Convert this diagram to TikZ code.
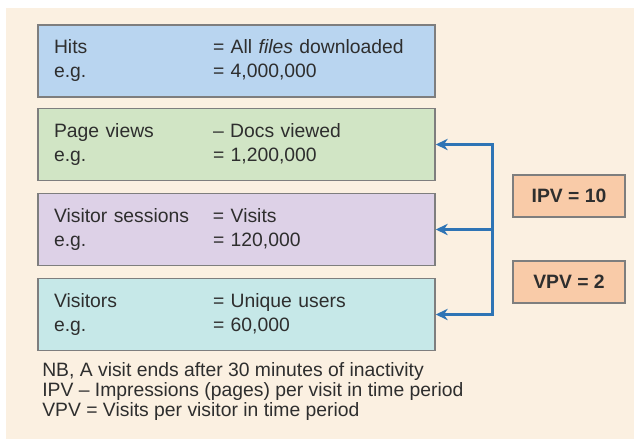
\documentclass[tikz,border=0pt]{standalone}
\usepackage{fontspec}
\setmainfont{Liberation Sans}
\usetikzlibrary{arrows.meta}
\definecolor{webcream}{HTML}{FBF0E1}
\definecolor{webhits}{HTML}{B9D5F0}
\definecolor{webpages}{HTML}{D1E5C5}
\definecolor{websess}{HTML}{DDD1E7}
\definecolor{webusers}{HTML}{C6E8E8}
\definecolor{webpeach}{HTML}{F9CBA8}
\definecolor{webgrey}{HTML}{7E7E7E}
\definecolor{webblue}{HTML}{2E74B5}
\definecolor{webtext}{HTML}{2E2E2E}
\newcommand{\rowlbl}[1]{\makebox[119.25pt][l]{#1}}

\begin{document}
\begin{tikzpicture}[x=0.75pt,y=-0.75pt,font=\fontsize{14.5}{18}\selectfont,text=webtext,
    metric/.style={draw=webgrey,line width=1.1pt,text width=273.75pt,inner xsep=12pt,inner ysep=0pt,minimum height=54pt,align=left},
    ratio/.style={draw=webgrey,line width=1.1pt,fill=webpeach,minimum width=84pt,minimum height=31.5pt,font=\fontsize{14.5}{18}\selectfont\bfseries},
    link/.style={webblue,line width=2.3pt}]
    \useasboundingbox(0,0)rectangle(634,439);
    \fill[white](0,0)rectangle(634,439);\fill[webcream](6,8)rectangle(634,439);
    \node[metric,fill=webhits](hits)at(236.5,61){\rowlbl{Hits}= All \textit{files} downloaded\\\rowlbl{e.g.}= 4,000,000};
    \node[metric,fill=webpages](pv)at(236.5,144.5){\rowlbl{Page views}– Docs viewed\\\rowlbl{e.g.}= 1,200,000};
    \node[metric,fill=websess](vs)at(236.5,229.5){\rowlbl{Visitor sessions}= Visits\\\rowlbl{e.g.}= 120,000};
    \node[metric,fill=webusers](vi)at(236.5,314.5){\rowlbl{Visitors}= Unique users\\\rowlbl{e.g.}= 60,000};
    \node[ratio](ipv)at(569,196){IPV = 10};
    \node[ratio](vpv)at(569,282){VPV = 2};
    \coordinate(jt)at([xshift=42.75pt]pv.east);\coordinate(jb)at(jt|-vi.east);
    \draw[link,{Stealth[length=9pt,width=8.5pt]}-{Stealth[length=9pt,width=8.5pt]}](pv.east)--(jt)--(jb)--(vi.east);
    \draw[link,-{Stealth[length=9pt,width=8.5pt]}](jt|-vs.east)--(vs.east);
    \node[anchor=west,align=left,inner sep=0pt,font=\fontsize{14.5}{15}\selectfont](notes)at(42,391){NB, A visit ends after 30 minutes of inactivity\\IPV – Impressions (pages) per visit in time period\\VPV = Visits per visitor in time period};
  \end{tikzpicture}
\end{document}
